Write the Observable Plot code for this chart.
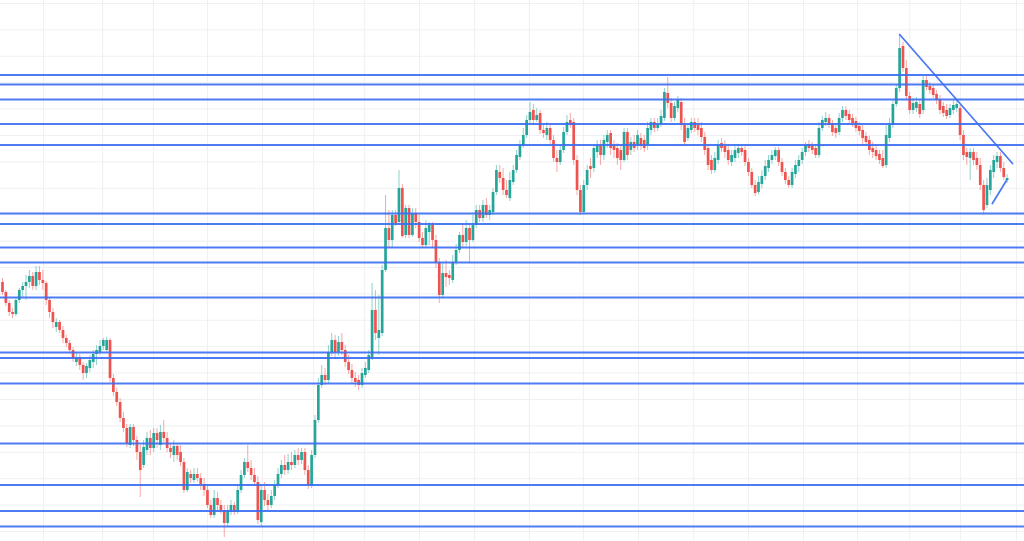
<!DOCTYPE html>
<html>
<head>
<meta charset="utf-8">
<script src="https://cdn.jsdelivr.net/npm/d3@7"></script>
<script src="https://cdn.jsdelivr.net/npm/@observablehq/plot@0.6"></script>
<style>
  html, body { margin: 0; padding: 0; background: #ffffff; }
  #chart svg { display: block; }
</style>
</head>
<body>
<div id="chart"></div>
<script>
// ---- Data (price units) ----
const open = [
318,308,297,288,286,300,310,314,318,324,
314,328,320,317,300,288,273,278,270,262,
257,250,238,243,235,227,232,238,246,248,
254,250,260,222,208,198,182,172,155,173,
160,148,135,150,162,152,167,155,168,162,
152,145,154,148,138,110,126,120,126,122,
116,110,95,85,102,95,90,77,88,95,
88,110,125,138,132,125,118,78,110,100,
95,104,115,126,135,130,138,135,145,140,
148,130,115,145,180,215,225,220,248,260,
248,258,250,238,230,222,220,215,225,230,
242,290,262,267,330,372,360,385,378,412,
365,392,365,387,378,362,355,368,375,360,
338,305,327,325,320,338,350,365,358,372,
360,375,390,382,395,385,388,408,428,422,
410,402,418,430,443,455,465,480,490,480,
487,470,465,472,460,442,438,450,468,480,
478,440,410,388,415,434,432,448,455,445,
458,467,455,452,450,440,468,450,458,455,
462,460,455,470,478,472,476,482,507,497,
482,492,498,475,462,470,478,475,472,463,
452,440,430,440,457,454,450,438,442,447,
452,450,438,428,415,408,416,424,432,440,
444,450,438,428,420,415,426,434,440,448,
456,454,452,445,472,478,482,477,472,468,
482,490,486,482,479,474,470,464,460,452,
450,446,442,435,462,475,496,512,554,532,
504,490,492,496,490,520,514,512,506,500,
494,490,485,490,492,492,465,448,442,448,
442,435,415,395,410,428,438,444,432,420
];
const high = [
322,310,300,292,302,312,318,325,330,328,
334,334,330,319,302,292,282,280,274,265,
260,253,248,246,238,237,245,250,255,260,
262,263,262,226,212,202,188,176,176,176,
164,155,160,168,170,172,172,175,180,168,
157,160,156,155,142,132,130,132,132,127,
122,114,100,110,108,100,95,95,100,98,
115,130,142,155,140,132,124,114,118,106,
110,120,132,140,145,146,148,150,152,152,
152,135,150,185,222,235,232,255,267,265,
264,267,255,245,236,228,225,232,238,250,
317,310,305,335,405,390,390,390,430,416,
395,395,392,392,385,368,380,378,378,365,
342,337,340,330,345,356,368,375,380,375,
385,395,395,400,402,395,412,435,435,432,
420,428,435,450,460,472,485,498,496,492,
490,475,478,475,465,450,455,473,485,487,
482,445,415,420,435,442,455,460,460,465,
470,470,460,457,455,472,472,463,465,470,
467,465,478,482,482,482,490,512,523,502,
498,504,502,482,476,482,482,482,478,468,
456,445,448,460,462,460,455,450,455,456,
455,454,442,432,420,424,430,440,445,450,
453,453,442,432,424,432,440,445,452,458,
460,458,456,478,484,488,486,480,476,487,
494,494,490,486,483,478,475,468,464,458,
455,450,450,475,482,500,516,565,558,540,
508,502,503,500,524,524,518,516,510,505,
498,496,496,500,500,495,470,452,452,452,
448,442,420,422,435,445,448,448,438,426
];
const low = [
305,294,284,282,284,297,303,300,312,310,
310,315,310,295,282,272,268,267,257,253,
247,238,234,230,220,222,228,232,235,245,
250,248,218,204,194,178,168,153,152,154,
140,103,132,145,145,148,152,150,158,148,
142,138,140,134,107,108,117,117,118,110,
104,92,82,82,90,86,63,73,85,85,
86,107,122,128,120,114,76,73,94,90,
92,100,112,122,125,126,130,132,135,136,
125,111,112,142,177,212,215,217,244,242,
244,245,233,226,217,213,210,212,222,227,
240,260,245,264,328,352,352,374,376,362,
362,362,363,372,358,352,352,355,352,332,
297,302,313,315,317,335,347,353,354,337,
358,372,378,378,382,380,385,405,417,405,
402,399,415,427,440,452,462,476,476,478,
466,462,460,455,438,428,435,447,465,472,
435,405,385,386,410,422,428,442,435,440,
452,445,442,435,430,438,440,445,448,450,
450,448,450,465,468,469,473,479,492,478,
479,488,470,454,459,467,468,465,458,445,
430,426,427,436,448,442,435,434,438,442,
444,434,424,412,404,406,412,420,428,436,
440,434,424,416,412,412,422,428,436,444,
448,446,442,442,469,474,472,464,462,465,
478,480,476,473,468,465,455,454,445,442,
440,436,432,432,458,472,493,508,528,500,
486,486,488,482,486,510,506,502,496,486,
483,481,482,486,488,460,440,435,420,435,
430,410,387,392,405,422,432,428,420,417
];
const close = [
308,297,288,286,300,310,314,318,324,314,
328,320,317,300,288,278,278,270,262,257,
250,242,243,235,227,234,240,246,250,254,
260,260,222,208,198,182,172,157,173,160,
148,130,153,162,152,167,160,168,162,152,
148,154,145,138,110,128,122,126,122,116,
110,95,85,102,95,90,77,90,95,88,
110,125,138,132,125,118,80,110,100,95,
104,115,126,135,130,138,135,145,140,148,
130,115,145,180,215,225,220,248,260,248,
258,250,238,230,222,218,215,227,232,245,
290,267,270,330,372,360,385,377,412,364,
392,365,387,378,362,355,372,375,360,338,
305,327,323,322,338,350,365,358,372,360,
375,390,382,395,385,390,408,430,422,410,
405,420,430,445,455,465,480,488,480,485,
470,467,472,460,442,438,450,468,478,475,
440,410,388,415,430,431,452,455,445,460,
465,452,450,442,440,468,445,458,452,465,
454,452,472,478,472,476,484,508,497,482,
494,500,475,458,472,478,472,470,463,450,
435,430,442,455,452,448,440,445,450,452,
448,438,428,415,407,418,424,434,440,445,
450,438,428,420,415,428,435,440,448,455,
452,450,445,472,480,482,475,468,467,482,
490,484,480,477,472,469,462,458,450,448,
444,440,434,465,475,496,512,552,532,504,
490,497,498,486,520,513,510,505,500,490,
487,484,492,495,496,465,445,443,448,440,
435,415,390,415,430,440,444,432,423,422
];

// Horizontal support / resistance levels
const levels = [525.5, 516, 501, 476.5, 455.5, 387, 376.5, 353, 338, 303, 248, 242.5, 217, 157, 115.5, 89.5, 74];

// Drawn trend lines (bar index, price)
const trendIdx = [267, 300.6];
const trendPrice = [566, 437];
const wedgeIdx = [294.6, 298.8];
const wedgePrice = [397, 420];

// Grid positions (bar index / price)
const gridIdx = [12.2, 29.8, 44.9, 61, 77.4, 92.6, 107.7, 124.1, 140.5, 156.8, 172.9, 189.3, 205.7, 222, 238.4, 254.5, 270, 285.1, 301.8];
const gridPrice = [597, 570.6, 544.2, 517.8, 491.4, 465, 438.6, 412.2, 385.8, 359.4, 333, 306.6, 280.2, 253.8, 227.4, 201, 174.6, 148.2, 121.8, 95.4, 69];

// ---- Build table ----
const candles = close.map((c, i) => ({i, o: open[i], h: high[i], l: low[i], c, up: c >= open[i]}));
const trend = trendIdx.map((x, k) => ({x, y: trendPrice[k]}));
const wedge = wedgeIdx.map((x, k) => ({x, y: wedgePrice[k]}));

const UP = "#26a69a", DOWN = "#ef5350", BLUE = "#3a6df2";

const chart = Plot.plot({
  width: 1024,
  height: 541,
  margin: 0,
  style: {background: "#ffffff"},
  x: {domain: [-0.595, 304.17], axis: null},
  y: {domain: [59, 600], axis: null},
  marks: [
    Plot.ruleX(gridIdx, {stroke: "#eef0f4", strokeWidth: 1}),
    Plot.ruleY(gridPrice, {stroke: "#eef0f4", strokeWidth: 1}),
    Plot.ruleX(candles, {x: "i", y1: "l", y2: "h", stroke: d => d.up ? UP : DOWN, strokeOpacity: 0.5, strokeWidth: 1}),
    Plot.ruleX(candles, {x: "i", y1: "o", y2: "c", stroke: d => d.up ? UP : DOWN, strokeWidth: 2.7}),
    Plot.ruleY(levels, {stroke: BLUE, strokeWidth: 2, strokeOpacity: 0.9}),
    Plot.line(trend, {x: "x", y: "y", stroke: BLUE, strokeWidth: 1.8, strokeOpacity: 0.9}),
    Plot.line(wedge, {x: "x", y: "y", stroke: BLUE, strokeWidth: 1.8, strokeOpacity: 0.9})
  ]
});
document.getElementById("chart").appendChild(chart);
</script>
</body>
</html>
